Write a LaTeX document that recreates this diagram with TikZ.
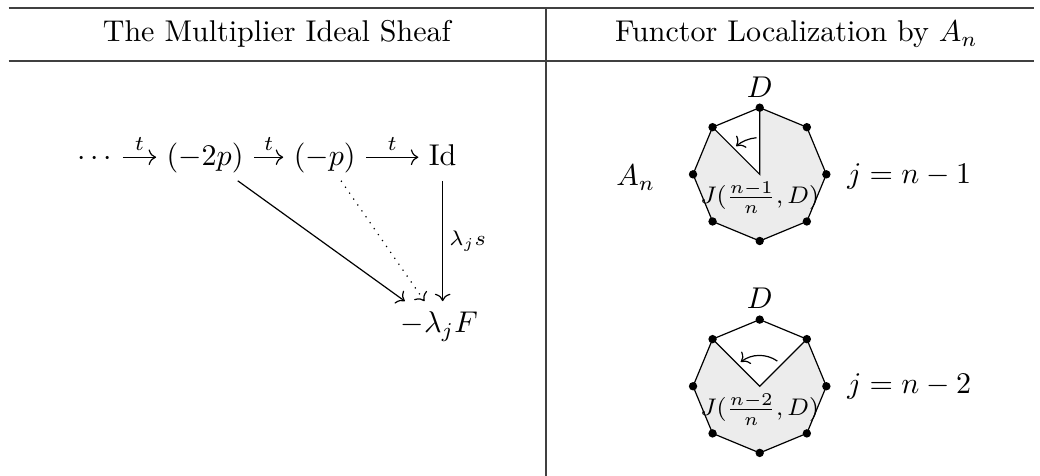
\documentclass[tikz,border=0pt]{standalone}
\usetikzlibrary{arrows.meta,calc}

\begin{document}
\begin{tikzpicture}[>=To,
 rule/.style={line width=0.6pt,black!75},
 obj/.style={text height=1.6ex,text depth=0.4ex},
 lbl/.style={font=\scriptsize,inner sep=2pt},
 jlbl/.style={font=\footnotesize,inner sep=1pt}]
\useasboundingbox (0,0) rectangle (12.17,-5.57);
% table frame
\draw[rule] (0.10,-0.09) -- (12.10,-0.09);
\draw[rule] (0.10,-0.71) -- (12.10,-0.71);
\draw[rule] (6.39,-0.09) -- (6.39,-5.57);
\node (head1) at (3.24,-0.40) {The Multiplier Ideal Sheaf};
\node (head2) at (9.32,-0.40) {Functor Localization by $A_n$};

% left: the sequence and its maps
\node[obj] (dots) at (1.11,-1.84) {$\cdots$};
\node[obj] (m2p) at (2.40,-1.84) {$(-2p)$};
\node[obj] (mp) at (3.80,-1.84) {$(-p)$};
\node[obj] (id) at (5.18,-1.84) {$\mathrm{Id}$};
\node[obj] (lamF) at (5.14,-3.80) {$-\lambda_j F$};
\draw[->] (dots) -- node[lbl,above] {$t$} (m2p);
\draw[->] (m2p) -- node[lbl,above] {$t$} (mp);
\draw[->] (mp) -- node[lbl,above] {$t$} (id);
\draw[->] (id) -- node[lbl,right] {$\lambda_j s$} (id |- lamF.north);
\draw[->] (m2p) -- ($(lamF.north west)!0.3!(lamF.north)$);
\draw[->,dotted] (mp) -- ($(lamF.north west)!0.7!(lamF.north)$);

% right: two octagons
\node (an) at (7.44,-2.08) {$A_n$};
\begin{scope}[shift={(8.89,-2.04)}]
 \fill[gray!15] (0,0) -- (90:0.78) -- (45:0.78) -- (0:0.78) -- (-45:0.78) -- (-90:0.78)
  -- (-135:0.78) -- (180:0.78) -- (135:0.78) -- cycle;
 \draw (0:0.78) \foreach \a in {45,90,...,315} {-- (\a:0.78)} -- cycle;
 \draw (90:0.78) -- (0,0) -- (135:0.78);
 \foreach \a in {0,45,...,315} \fill (\a:0.78) circle (1.4pt);
 \draw[->] (95:0.43) arc (95:130:0.43);
 \node[above] (d1) at (90:0.78) {$D$};
 \node[jlbl] (j1) at (0,-0.27) {$J(\frac{n-1}{n},D)$};
\end{scope}
\node (eq1) at (10.64,-2.06) {$j=n-1$};

\begin{scope}[shift={(8.89,-4.52)}]
 \fill[gray!15] (0,0) -- (45:0.78) -- (0:0.78) -- (-45:0.78) -- (-90:0.78)
  -- (-135:0.78) -- (180:0.78) -- (135:0.78) -- cycle;
 \draw (0:0.78) \foreach \a in {45,90,...,315} {-- (\a:0.78)} -- cycle;
 \draw (45:0.78) -- (0,0) -- (135:0.78);
 \foreach \a in {0,45,...,315} \fill (\a:0.78) circle (1.4pt);
 \draw[->] (55:0.36) arc (55:128:0.36);
 \node[above] (d2) at (90:0.78) {$D$};
 \node[jlbl] (j2) at (0,-0.27) {$J(\frac{n-2}{n},D)$};
\end{scope}
\node (eq2) at (10.64,-4.52) {$j=n-2$};
\end{tikzpicture}
\end{document}
